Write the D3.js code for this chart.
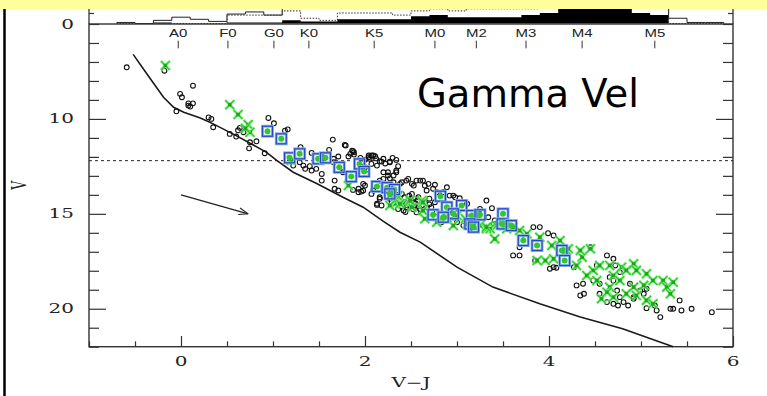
<!DOCTYPE html>
<html>
<head>
<meta charset="utf-8">
<script src="https://cdn.jsdelivr.net/npm/d3@7"></script>
<style>
  body { margin: 0; background: #fff; }
  svg { display: block; }
  .axis path.domain { display: none; }
  .axis line { stroke: #333; stroke-width: 1.2; }
</style>
</head>
<body>
<svg id="chart" width="767" height="396"></svg>
<script>
// ---- data ----
const xMajor = [0, 2, 4, 6];
const yMajor = [10, 15, 20];

// spectral types along the top of the CMD
const spectralTypes = ['A0', 'F0', 'G0', 'K0', 'K5', 'M0', 'M2', 'M3', 'M4', 'M5'];
const spectralVJ    = [-0.03, 0.51, 1.01, 1.39, 2.1, 2.76, 3.21, 3.75, 4.36, 5.15];

// histograms, bins of 0.2 in V-J starting at -0.7
const histStart = -0.7, histWidth = 0.2;
const histFilled = [0,0,1,0,0,0,1,1,1,3,2,2,4,4,4,4,7,8,6,6,6,6,8,10,14,17,18,18,10,8,0,0,0];
const histSolid  = [1,0,3,6,4,2,9,11,8,20,20,20,20,20,20,20,20,20,20,20,20,20,20,20,20,20,20,20,20,20,5,1,1];
const histDotted = [0,0,0,0,0,0,8,8,8,12,5,3,10,10,10,8,12,14,12,14,14,14,14,18,18,18,18,18,18,18,0,0,0];

// isochrone (V-J, V)
const isochrone = [[-0.52,6.6],[-0.37,7.63],[-0.19,8.86],[-0.08,9.39],[0.03,9.65],[0.21,9.95],[0.35,10.26],
  [0.6,10.88],[0.93,11.76],[1.04,12.19],[1.22,12.81],[1.48,13.42],[1.76,14.13],[1.98,14.65],[2.2,15.4],
  [2.38,15.97],[2.6,16.49],[3.0,17.81],[3.39,18.86],[3.9,19.74],[4.34,20.44],[4.8,21.05],[5.35,22.0]];

// photometric candidates (black circles)
const candidates = [[-0.59,7.28],[-0.18,7.46],[0.13,8.25],[-0.01,8.68],[0.01,8.86],[0.08,9.18],[0.13,9.18],[0.10,9.35],[-0.05,9.6],[0.08,9.3],
  [0.30,9.92],[0.33,10.0],[0.35,10.44],[0.53,10.79],[0.6,10.93],[0.64,10.47],[0.68,10.7],[0.62,10.6],[0.75,11.23],[0.82,11.18],[0.74,11.55],[0.91,11.81],[0.95,9.95],[1.01,10.23],[1.13,10.62],[1.16,10.55],
  [1.65,11.09],[1.79,11.4],[1.87,11.7],[1.84,11.84],[1.61,11.63],[1.30,11.49],[1.42,11.79],[1.29,12.28],[1.35,12.63],[1.22,12.46],[1.33,12.46],[1.42,12.72],[1.47,12.63],[1.53,12.9],[1.53,13.25],[1.40,12.49],
  [1.66,12.1],[1.71,11.98],[1.82,11.98],[1.88,11.88],[2.04,11.93],[2.09,11.93],[2.05,12.1],[2.16,12.23],[2.27,12.28],[2.34,12.16],[1.76,12.81],[1.67,13.25],[1.67,13.68],[1.71,13.77],[1.87,13.74],[1.93,13.86],[1.98,13.77],[1.98,13.42],
  [2.20,12.81],[2.25,12.98],[2.31,13.34],[2.34,12.81],[2.16,14.21],[2.13,14.47],[2.27,14.21],[1.66,12.28],
  [1.78,11.37],[1.86,11.67],[1.88,11.76],[2.07,11.93],[2.11,11.97],[2.04,12.02],[2.18,12.25],[2.27,12.25],
  [2.07,12.37],[2.13,12.46],[2.0,12.55],[2.02,12.67],[2.36,12.49],[2.34,12.72],[2.25,12.81],[2.31,12.98],[2.27,13.13],[2.2,13.16],[2.16,13.25],[2.47,13.16],[2.4,13.34],[2.51,13.42],[2.56,13.25],[2.6,13.25],[2.65,13.51],[2.69,13.42],[2.76,13.47],[2.67,13.77],[2.74,13.68],
  [2.0,13.51],[1.93,13.68],[1.96,13.83],[2.07,13.95],[2.09,13.77],[2.16,14.13],[2.13,14.53],[2.18,14.56],
  [2.4,13.95],[2.43,14.13],[2.47,14.3],[2.49,14.47],[2.53,14.39],[2.54,14.56],[2.45,14.65],[2.58,14.13],[2.51,13.95],[2.6,14.74],[2.42,14.83],[2.56,14.92],[2.65,14.39],[2.67,14.65],
  [2.35,14.0],[2.38,14.25],[2.44,14.4],[2.5,14.2],[2.55,14.45],[2.46,14.55],[2.52,14.75],[2.4,14.6],[2.58,14.6],[2.62,14.55],[2.33,14.15],[2.29,14.35],[2.48,14.05],[2.57,14.3],[2.44,14.9],[2.36,14.75],[2.7,14.2],[2.7,14.5],
  [1.95,12.05],[2.0,12.15],[2.12,12.08],[2.2,12.1],[2.3,12.05],[2.22,12.35],[1.97,12.3],
  [2.78,13.86],[2.85,13.86],[2.92,14.04],[2.98,14.13],[3.03,14.18],[2.76,14.39],[2.72,14.65],[2.78,14.92],[2.83,15.44],[2.94,15.09],[3.0,15.44],[3.07,15.62],[3.14,15.79],[3.38,14.7],[3.34,15.18],[3.41,15.35],
  [3.4,15.53],[3.45,15.44],[3.83,15.7],[3.9,15.7],[3.99,16.02],[4.05,16.14],[3.61,17.19],[3.68,17.19],[3.85,17.46],[4.01,17.89],[4.08,17.84],
  [4.3,18.77],[4.37,18.68],[4.34,19.3],[4.38,19.21],[4.48,18.51],[4.55,18.68],[4.66,18.34],[4.72,17.72],[4.77,18.07],
  [4.63,19.65],[4.70,19.74],[4.75,19.83],[4.81,19.65],[4.86,19.83],[5.06,19.97],[5.15,19.83],[5.17,20.09],[5.32,20.0],[5.35,20.0],[5.44,20.09],[5.55,20.0],[5.21,20.44],[5.77,20.18],[5.42,19.56],[5.03,19.21],[4.92,19.39],[5.06,18.95],
  [4.45,16.76],[4.52,17.72],[4.70,17.37],[4.63,17.19],
  [4.70,18.51],[4.88,18.68],[4.99,19.04],[4.74,19.04],[4.77,19.39],[4.92,19.47],[4.55,19.21],[4.27,17.81],[4.05,17.81],[3.68,16.76],
  [2.38,13.42],[2.45,13.25],[2.53,13.51],[2.63,13.25],[2.89,13.6],[2.96,14.04],[3.11,14.47],[3.25,14.74],[3.32,14.3]];

// lithium members (green crosses)
const liMembers = [[-0.17,7.19],[0.53,9.25],[0.62,9.77],[0.73,10.30],[0.75,10.7],[0.70,10.5],[1.20,12.19],[1.82,13.51],[2.33,14.47],
  [2.36,14.04],[2.33,14.3],[2.42,14.39],[2.51,14.65],[2.62,14.3],[2.27,14.56],[2.63,14.83],
  [2.65,15.26],[2.78,15.44],[2.96,15.62],[3.11,15.53],[3.25,15.62],[3.32,15.79],[3.43,15.62],[3.54,15.79],
  [4.45,16.84],[4.36,17.28],[4.48,17.98],[4.55,17.72],[4.66,17.72],[4.79,17.81],[4.84,17.98],[4.92,17.63],[4.95,17.98],[5.06,18.16],[5.13,18.51],[5.24,18.51],[5.28,18.86],[5.32,19.21],[5.35,18.6],[4.70,18.25],[4.77,18.51],[4.66,18.86],[4.52,18.51],[4.92,18.86],[5.03,18.77],[4.84,19.21],[4.95,19.3],[5.06,19.56],[5.13,19.74],[4.57,19.47],[4.70,19.39],[4.63,19.13],[4.41,18.25],[4.30,17.72],[4.19,16.93],[4.12,16.41],[4.03,16.67],[3.96,17.46],[3.87,17.46],[3.76,16.05],[3.68,15.88],[3.61,15.7],[3.54,15.53],[3.41,16.32],[3.36,15.79],[3.90,16.23],[4.05,17.37],[4.21,16.84],[4.34,16.93],
  [2.38,14.47],[2.49,14.3],[2.63,14.39],[2.89,15.18],[3.0,15.09],[3.09,15.26],[3.21,15.35],[3.32,15.7]];

// RV members (blue squares)
const rvMembers = [[0.94,10.65],[1.09,11.05],[1.18,12.05],[1.29,11.84],[1.49,12.1],[1.57,12.05],[1.72,12.55],[1.94,12.37],[1.99,12.77],[1.85,13.04],
  [2.13,13.56],[2.24,13.62],[2.32,13.72],[2.27,13.95],[2.82,14.07],[2.89,14.65],[3.05,14.56],[2.96,15.0],[2.74,15.05],[2.85,15.18],
  [3.16,15.09],[3.25,15.05],[3.14,15.53],[3.5,15.0],[3.49,15.53],[3.59,15.62],[3.72,16.41],[3.87,16.67],[4.14,16.93],[4.17,17.46],[3.18,15.7]];

const vCut = 12.2;
const reddening = [[0.0, 14.0], [0.73, 15.0]];

// ---- drawing ----
const svg = d3.select('#chart');
const box = {left: 89, right: 733, top: 24, bottom: 346.7};
const x = d3.scaleLinear().domain([-1, 6]).range([box.left, box.right]);
const y = d3.scaleLinear().domain([5, 22]).range([box.top, box.bottom]);
const hy = d3.scaleLinear().domain([0, 10]).range([23.5, 13]);

// PGPLOT-ish stretched text
const stretch = 1.6;
function label(g, px, py, str, o) {
  return g.append('text')
    .attr('transform', `translate(${px},${py}) scale(${o.sx || 1},1)`)
    .attr('text-anchor', o.anchor || 'middle')
    .style('font-family', o.font || '"DejaVu Serif", serif')
    .style('font-size', (o.size || 12.5) + 'px')
    .style('fill', o.fill || '#222')
    .text(str);
}

// histograms in the top strip
const hist = svg.append('g');
const binData = arr => arr.map((v, i) => [histStart + i * histWidth, v])
  .concat([[histStart + arr.length * histWidth, 0]]);
hist.append('path').datum(binData(histFilled))
  .attr('d', d3.area().curve(d3.curveStepAfter).x(d => x(d[0])).y0(hy(0)).y1(d => hy(d[1])))
  .attr('fill', '#000');
hist.append('path').datum(binData(histSolid))
  .attr('d', d3.line().curve(d3.curveStepAfter).x(d => x(d[0])).y(d => hy(d[1])))
  .attr('fill', 'none').attr('stroke', '#222').attr('stroke-width', 1);
hist.append('path').datum(binData(histDotted))
  .attr('d', d3.line().curve(d3.curveStepAfter).x(d => x(d[0])).y(d => hy(d[1])))
  .attr('fill', 'none').attr('stroke', '#333').attr('stroke-width', 1).attr('stroke-dasharray', '1.5,1.5');

// top strip side axes
[box.left, box.right].forEach((px, i) => {
  svg.append('g').attr('class', 'axis')
    .attr('transform', `translate(${px},0)`)
    .call((i ? d3.axisRight(hy) : d3.axisLeft(hy)).tickValues([10]).tickSize(-5).tickFormat(''));
  svg.append('line').attr('x1', px).attr('x2', px).attr('y1', 0).attr('y2', box.top)
    .attr('stroke', '#333').attr('stroke-width', 1.3);
});
label(svg, 74, 28.5, '0', {anchor: 'end', sx: stretch});

// main frame
svg.append('rect').attr('x', box.left).attr('y', box.top)
  .attr('width', box.right - box.left).attr('height', box.bottom - box.top)
  .attr('fill', 'none').attr('stroke', '#333').attr('stroke-width', 1.4);

// ticks
const xMinor = d3.range(-1, 6.01, 0.5).filter(v => !xMajor.includes(v));
const yMinor = d3.range(5, 22.01, 1).filter(v => !yMajor.includes(v));
svg.append('g').attr('class', 'axis').attr('transform', `translate(0,${box.bottom})`)
  .call(d3.axisBottom(x).tickValues(xMajor).tickSize(-10.7).tickFormat(''));
svg.append('g').attr('class', 'axis').attr('transform', `translate(0,${box.bottom})`)
  .call(d3.axisBottom(x).tickValues(xMinor).tickSize(-5.3).tickFormat(''));
[[box.left, d3.axisLeft], [box.right, d3.axisRight]].forEach(([px, ax]) => {
  svg.append('g').attr('class', 'axis').attr('transform', `translate(${px},0)`)
    .call(ax(y).tickValues(yMajor).tickSize(-17).tickFormat(''));
  svg.append('g').attr('class', 'axis').attr('transform', `translate(${px},0)`)
    .call(ax(y).tickValues(yMinor).tickSize(-10).tickFormat(''));
});

// tick labels
xMajor.forEach(v => label(svg, x(v), 365.5, d3.format('d')(v), {sx: stretch}));
yMajor.forEach(v => label(svg, 74, y(v) + 4.5, d3.format('d')(v), {anchor: 'end', sx: stretch}));
label(svg, (box.left + box.right) / 2, 387, 'V\u2212J', {sx: stretch});
svg.append('text')
  .attr('transform', `translate(26,${(box.top + box.bottom) / 2}) rotate(-90) scale(1,${stretch})`)
  .attr('text-anchor', 'middle')
  .style('font-family', '"DejaVu Serif", serif').style('font-size', '12.5px').style('fill', '#222')
  .text('V');

// spectral types
spectralTypes.forEach((s, i) => {
  label(svg, x(spectralVJ[i]), 36.5, s, {font: '"Liberation Sans", sans-serif', size: 10, sx: 1.5});
  svg.append('line').attr('x1', x(spectralVJ[i])).attr('x2', x(spectralVJ[i]))
    .attr('y1', 40.7).attr('y2', 48.3).attr('stroke', '#333').attr('stroke-width', 1);
});

// V cut
svg.append('line').attr('x1', box.left).attr('x2', box.right)
  .attr('y1', y(vCut)).attr('y2', y(vCut))
  .attr('stroke', '#222').attr('stroke-width', 1).attr('stroke-dasharray', '3,3');

// isochrone
svg.append('path').datum(isochrone)
  .attr('d', d3.line().x(d => x(d[0])).y(d => y(d[1])))
  .attr('fill', 'none').attr('stroke', '#1a1a1a').attr('stroke-width', 1.6);

// reddening arrow
const [a0, a1] = reddening.map(d => [x(d[0]), y(d[1])]);
svg.append('line').attr('x1', a0[0]).attr('y1', a0[1]).attr('x2', a1[0]).attr('y2', a1[1])
  .attr('stroke', '#222').attr('stroke-width', 1.3);
const ang = Math.atan2(a1[1] - a0[1], a1[0] - a0[0]);
[0.35, -0.35].forEach(da => {
  svg.append('line').attr('x1', a1[0]).attr('y1', a1[1])
    .attr('x2', a1[0] - 10 * Math.cos(ang + da)).attr('y2', a1[1] - 10 * Math.sin(ang + da))
    .attr('stroke', '#222').attr('stroke-width', 1.1);
});

// candidates
svg.append('g').selectAll('circle').data(candidates).join('circle')
  .attr('cx', d => x(d[0])).attr('cy', d => y(d[1])).attr('r', 2.4)
  .attr('fill', 'none').attr('stroke', '#111').attr('stroke-width', 1.1);

// Li members
const cross = 'M-4.5,-4.5L4.5,4.5M-4.5,4.5L4.5,-4.5';
const li = svg.append('g').selectAll('g').data(liMembers).join('g')
  .attr('transform', d => `translate(${x(d[0])},${y(d[1])})`);
li.append('path').attr('d', cross).attr('stroke', '#9ff09f').attr('stroke-width', 3.4).attr('opacity', 0.7);
li.append('path').attr('d', cross).attr('stroke', '#29d129').attr('stroke-width', 1.5);
li.append('rect').attr('x', -1.8).attr('y', -1.8).attr('width', 3.6).attr('height', 3.6).attr('fill', '#1da51d');

// RV members
const rv = svg.append('g').selectAll('g').data(rvMembers).join('g')
  .attr('transform', d => `translate(${x(d[0])},${y(d[1])})`);
rv.append('circle').attr('r', 3).attr('fill', '#33c633');
rv.append('rect').attr('x', -5).attr('y', -5).attr('width', 10).attr('height', 10)
  .attr('fill', 'none').attr('stroke', '#8fb5ea').attr('stroke-width', 3);
rv.append('rect').attr('x', -5).attr('y', -5).attr('width', 10).attr('height', 10)
  .attr('fill', 'none').attr('stroke', '#2348c2').attr('stroke-width', 1.2);

// title
svg.append('text').attr('x', 639).attr('y', 107).attr('text-anchor', 'end')
  .style('font-family', '"DejaVu Sans", sans-serif').style('font-size', '38.5px').style('fill', '#000')
  .text('Gamma Vel');

// slide furniture: yellow band and left rule
svg.append('rect').attr('x', 0).attr('y', 0).attr('width', 767).attr('height', 9).attr('fill', '#ffff99');
svg.append('line').attr('x1', 4.5).attr('x2', 4.5).attr('y1', 9).attr('y2', 396)
  .attr('stroke', '#000').attr('stroke-width', 2.5);
</script>
</body>
</html>
